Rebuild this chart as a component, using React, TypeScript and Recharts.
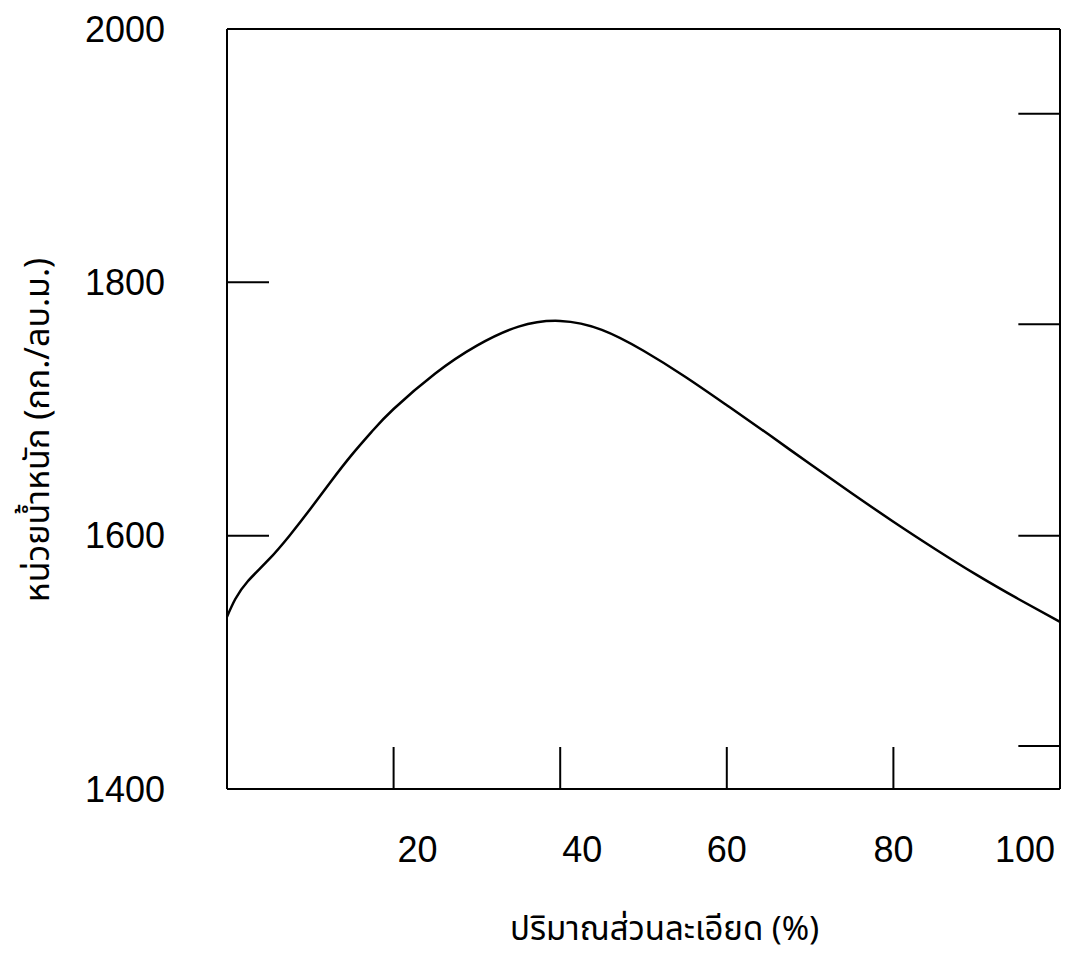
import { LineChart, Line, XAxis, YAxis, Label, ReferenceLine } from "recharts";

// fines content (%) vs unit weight (kg/m3)
const fines = [0, 1, 2.5, 5, 7.5, 10, 12.5, 15, 17.5, 20, 25, 30, 35, 40, 45, 50, 55, 60, 65, 70, 75, 80, 85, 90, 95, 100];
const unitWeight = [1536, 1550, 1564, 1581, 1600, 1621, 1643, 1664, 1683, 1700, 1728, 1750, 1765, 1769.5, 1762.5, 1746, 1725.5, 1703, 1680, 1656.5, 1633.5, 1611, 1589.5, 1569, 1550, 1532];

const xTicks = [20, 40, 60, 80, 100];
const yTicks = [1400, 1600, 1800, 2000];
// short inner ticks on the right-hand frame
const rightTicks = [1434, 1600, 1767, 1933];
const rightTickFrom = 95;

const data = fines.map((f, i) => ({ fines: f, weight: unitWeight[i] }));

const INK = "#000";
const SANS = "'Liberation Sans', Arial, Helvetica, sans-serif";
const NARROW = "'Liberation Sans Narrow', 'Arial Narrow', 'Liberation Sans', sans-serif";
const THAI = "'Noto Sans Thai', 'Noto Sans', 'DejaVu Sans', sans-serif";

// x tick labels in the original sit a little off their ticks
function XTick(props: any) {
  const { x, y, payload } = props;
  const v = payload.value;
  const anchor = v === 100 ? "end" : "middle";
  const dx = v === 20 ? 24 : v === 40 ? 22 : 0;
  return (
    <text x={x + dx} y={y + 28} textAnchor={anchor} fontSize={36} fontFamily={NARROW} fill={INK}>
      {v}
    </text>
  );
}

export default function App() {
  return (
    <div style={{ position: "absolute", left: 0, top: 0, width: 1067, height: 956, background: "#fff" }}>
      <LineChart width={1067} height={956} data={data} margin={{ top: 29, right: 7, bottom: 0, left: 0 }}>
        <XAxis
          dataKey="fines"
          type="number"
          domain={[0, 100]}
          ticks={xTicks}
          height={167}
          tickSize={-42}
          tickMargin={87}
          tick={<XTick />}
          axisLine={{ stroke: INK, strokeWidth: 2 }}
          tickLine={{ stroke: INK, strokeWidth: 2 }}
        >
          <Label
            content={({ viewBox }: any) => (
              <text
                x={viewBox.x + viewBox.width / 2 + 21}
                y={viewBox.y + 151}
                textAnchor="middle"
                fontSize={33}
                fontFamily={THAI}
                fill={INK}
              >
                ปริมาณส่วนละเอียด (%)
              </text>
            )}
          />
        </XAxis>
        <YAxis
          type="number"
          domain={[1400, 2000]}
          ticks={yTicks}
          width={227}
          tickSize={-42}
          tickMargin={104}
          tick={{ fontSize: 36, fontFamily: SANS, fill: INK }}
          axisLine={{ stroke: INK, strokeWidth: 2 }}
          tickLine={{ stroke: INK, strokeWidth: 2 }}
        >
          <Label
            content={() => {
              const cx = 38;
              const cy = 430;
              return (
                <text
                  x={cx}
                  y={cy}
                  transform={`rotate(-90 ${cx} ${cy})`}
                  textAnchor="middle"
                  dominantBaseline="central"
                  fontSize={34}
                  fontFamily={THAI}
                  fill={INK}
                >
                  หน่วยน้ำหนัก (กก./ลบ.ม.)
                </text>
              );
            }}
          />
        </YAxis>
        {/* frame: top and right edges */}
        <ReferenceLine y={2000} stroke={INK} strokeWidth={2} />
        <ReferenceLine x={100} stroke={INK} strokeWidth={2} />
        {rightTicks.map((t) => (
          <ReferenceLine
            key={t}
            segment={[
              { x: rightTickFrom, y: t },
              { x: 100, y: t },
            ]}
            stroke={INK}
            strokeWidth={2}
          />
        ))}
        <Line
          type="natural"
          dataKey="weight"
          stroke={INK}
          strokeWidth={2.5}
          dot={false}
          isAnimationActive={false}
        />
      </LineChart>
    </div>
  );
}
